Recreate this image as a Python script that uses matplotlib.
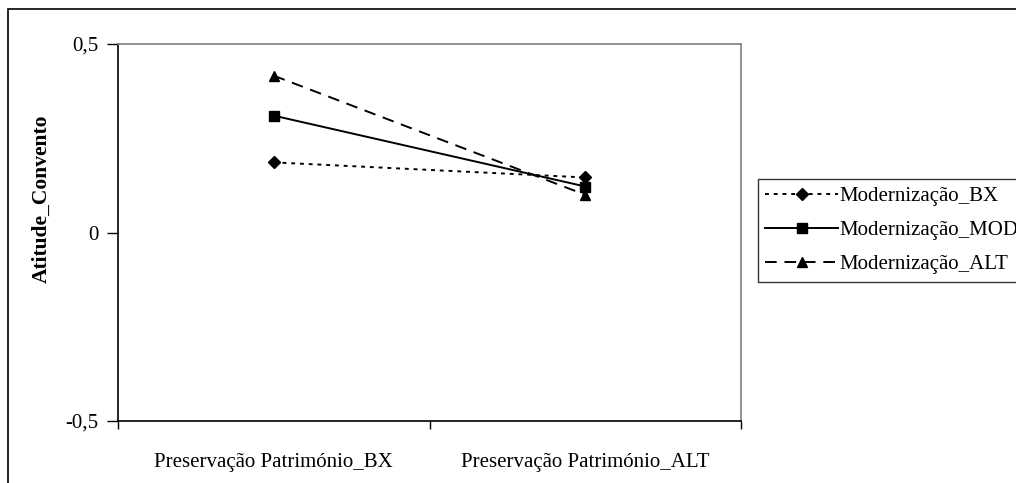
import matplotlib
matplotlib.use("Agg")
import matplotlib.pyplot as plt
from matplotlib.patches import Rectangle

categories = ["Preservação Património_BX", "Preservação Património_ALT"]
series_names = ["Modernização_BX", "Modernização_MOD", "Modernização_ALT"]
bx_values = [0.186, 0.146]
mod_values = [0.31, 0.122]
alt_values = [0.416, 0.10]
yticks = [-0.5, 0, 0.5]
yticklabels = ["-0,5", "0", "0,5"]

plt.rcParams['font.family'] = ['Liberation Serif', 'DejaVu Serif']

W, H = 1016, 483
fig = plt.figure(figsize=(W / 100, H / 100), dpi=100)

# outer chart frame
fig.patches.append(Rectangle((8 / W, -0.1), 1.2, 1 - 9 / H + 0.1, transform=fig.transFigure,
                             fill=False, edgecolor='black', linewidth=1.2, zorder=0))

ax = fig.add_axes([118 / W, 1 - 421 / H, (741 - 118) / W, (421 - 44) / H])
x = [0.5, 1.5]
ax.plot(x, bx_values, color='black', linestyle=(0, (2, 2.5)), linewidth=1.4,
        marker='D', markersize=6.5, label=series_names[0])
ax.plot(x, mod_values, color='black', linestyle='-', linewidth=1.4,
        marker='s', markersize=6.5, label=series_names[1])
ax.plot(x, alt_values, color='black', linestyle=(0, (6, 4)), linewidth=1.4,
        marker='^', markersize=7.5, label=series_names[2])

ax.set_xlim(0, 2)
ax.set_ylim(-0.5, 0.5)
ax.set_yticks(yticks)
ax.set_yticklabels(yticklabels, fontsize=15)
ax.set_xticks([0, 1, 2])
ax.set_xticklabels([])
ax.set_xticks(x, minor=True)
ax.set_xticklabels(categories, minor=True, fontsize=15)
ax.tick_params(axis='x', which='minor', length=0, pad=23)
ax.tick_params(axis='x', which='major', direction='out', length=6, width=1)
ax.tick_params(axis='y', direction='out', length=8, width=1, pad=6)

for s in ['top', 'right']:
    ax.spines[s].set_color('#808080')
    ax.spines[s].set_linewidth(1.2)
for s in ['left', 'bottom']:
    ax.spines[s].set_color('black')
    ax.spines[s].set_linewidth(1.2)

ax.set_ylabel("Atitude_Convento", fontsize=15.5, fontweight='bold')
ax.yaxis.set_label_coords(-0.106, (421 - 199) / 377)

leg = fig.legend(loc='upper left', bbox_to_anchor=(758 / W, 1 - 179 / H),
                 fontsize=15, frameon=True, fancybox=False, handlelength=3.5,
                 labelspacing=0.7, borderpad=0.35, handletextpad=0.05, borderaxespad=0)
leg.get_frame().set_edgecolor('black')
leg.get_frame().set_linewidth(1.0)

fig.savefig("out.png", dpi=100)
